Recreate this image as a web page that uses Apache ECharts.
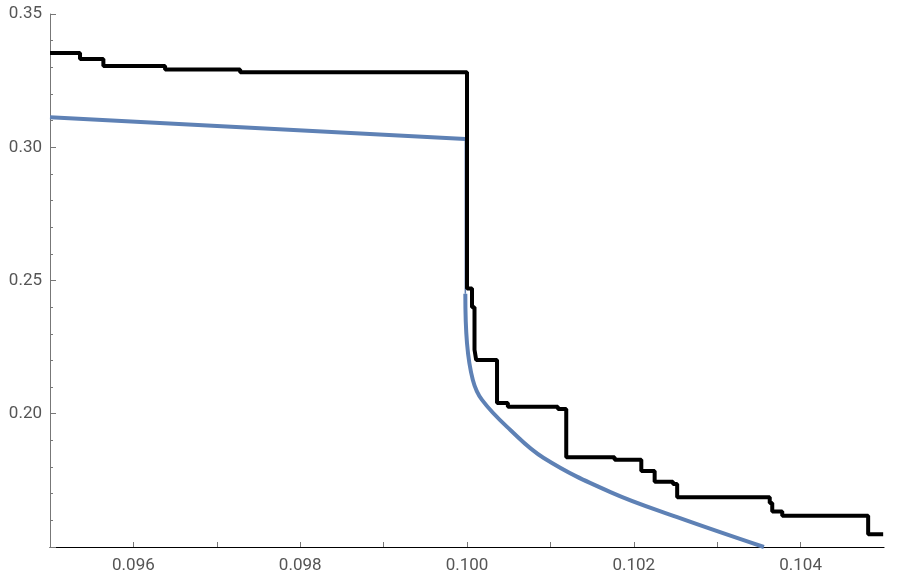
<!DOCTYPE html>
<html>
<head>
<meta charset="utf-8">
<script src="https://cdn.jsdelivr.net/npm/echarts@6/dist/echarts.min.js"></script>
<style>html,body{margin:0;padding:0;background:#fff}#chart{width:900px;height:580px}</style>
</head>
<body>
<div id="chart"></div>
<script>
"use strict";

// black empirical step curve: [x where level starts, level]
var stepPoints = [
	[0.095, 0.3354], [0.09536, 0.3331], [0.09564, 0.3305], [0.09638, 0.3292],
	[0.09728, 0.3281], [0.1000, 0.247], [0.10006, 0.240], [0.10009, 0.224],
	[0.10011, 0.2202], [0.10036, 0.2040], [0.10049, 0.2026], [0.10109, 0.2018],
	[0.10119, 0.1837], [0.10177, 0.1827], [0.10209, 0.1785], [0.10225, 0.1745],
	[0.10247, 0.1736], [0.10252, 0.1687], [0.10363, 0.1665], [0.10366, 0.1633],
	[0.10378, 0.1617], [0.10481, 0.1548], [0.10499, 0.1548]
];
// blue curve pieces
var blueUpper = [[0.095, 0.3113], [0.09998, 0.3031]];
var blueJump = [[0.09998, 0.3031], [0.09998, 0.245]];
var blueLower = [
	[0.09998, 0.245], [0.10000, 0.2265], [0.10007, 0.2127], [0.10018, 0.2052],
	[0.10052, 0.1939], [0.10092, 0.1834], [0.10172, 0.1706], [0.10252, 0.1612],
	[0.10356, 0.15]
];

var blue = '#5e81b5';
var axisCol = '#777';
var labelCol = '#555';

var chart = echarts.init(document.getElementById('chart'));
chart.setOption({
	animation: false,
	grid: { left: 50, right: 16, top: 14, bottom: 33 },
	xAxis: {
		type: 'value', min: 0.095, max: 0.105, interval: 0.001,
		axisLine: { onZero: false, lineStyle: { color: '#000', width: 1.2 } },
		axisTick: { length: 5, inside: true, lineStyle: { color: axisCol } },
		splitLine: { show: false },
		axisLabel: {
			color: labelCol, fontSize: 17, fontFamily: 'Roboto', margin: 10,
			showMinLabel: false, showMaxLabel: false,
			formatter: function (v) {
				var k = Math.round(v * 1000);
				return k % 2 === 0 ? (k / 1000).toFixed(3) : '';
			}
		}
	},
	yAxis: {
		type: 'value', min: 0.15, max: 0.35, interval: 0.05,
		axisLine: { show: true, lineStyle: { color: axisCol } },
		axisTick: { show: true, inside: true, length: 6, lineStyle: { color: axisCol } },
		minorTick: { show: true, splitNumber: 5, length: 3, lineStyle: { color: axisCol } },
		splitLine: { show: false },
		axisLabel: {
			color: labelCol, fontSize: 17, fontFamily: 'Roboto', margin: 8,
			showMinLabel: false,
			formatter: function (v) { return v.toFixed(2); }
		}
	},
	series: [
		{ type: 'line', data: blueUpper, showSymbol: false, lineStyle: { color: blue, width: 4 }, z: 2 },
		{ type: 'line', data: blueJump, showSymbol: false, lineStyle: { color: blue, width: 1.5 }, z: 2 },
		{ type: 'line', data: blueLower, smooth: 0.4, showSymbol: false, lineStyle: { color: blue, width: 4 }, z: 2 },
		{ type: 'line', data: stepPoints, step: 'end', showSymbol: false, lineStyle: { color: '#000', width: 4 }, z: 3 }
	]
});
</script>
</body>
</html>
